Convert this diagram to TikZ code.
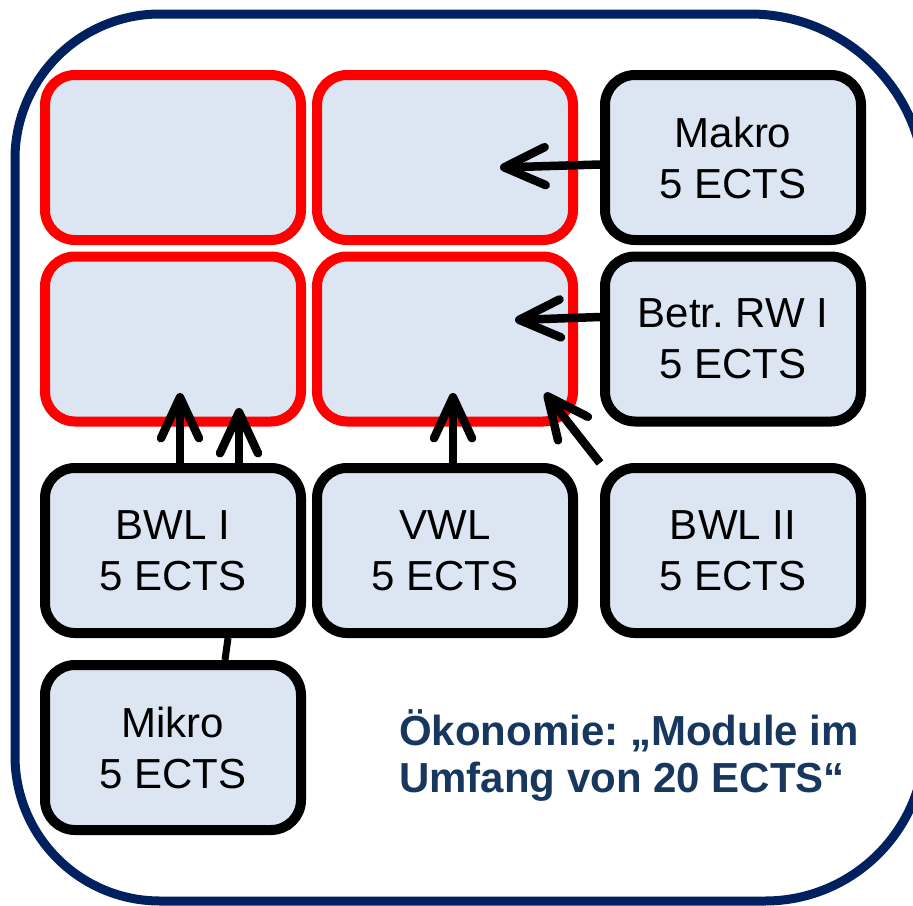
\documentclass[tikz,border=0pt]{standalone}
\usepackage{fontspec}
\setmainfont{Liberation Sans}
\usetikzlibrary{arrows.meta,calc}
\definecolor{boxfill}{HTML}{DCE6F2}
\definecolor{frameblue}{HTML}{002060}
\definecolor{textblue}{HTML}{17375E}
\definecolor{pred}{HTML}{FF0000}
\frenchspacing
\begin{document}
\begin{tikzpicture}[x=1pt,y=-1pt,
  modbox/.style={draw=black, fill=boxfill, line width=10pt, rounded corners=30pt,
    minimum width=256pt, minimum height=165pt, inner sep=0pt, align=center,
    font=\fontsize{42}{51}\selectfont},
  target/.style={modbox, draw=pred},
  dep/.style={line width=8.5pt, -{Straight Barb[length=41pt,width=38pt,round]}},
  link/.style={line width=7pt},
  frame/.style={draw=frameblue, line width=9pt}]
\useasboundingbox (0,0) rectangle (913,905);
% outer frame
\draw[frame] (15,400) -- (15,159) arc[start angle=180, end angle=90, radius=145pt]
  -- (750,14) arc[start angle=90, end angle=0, radius=175pt]
  -- (925,741) arc[start angle=0, end angle=-90, radius=160pt]
  -- (160,901) arc[start angle=-90, end angle=-180, radius=145pt]
  -- cycle;
% boxes
\node[target] (t11) at (173,157.5) {};
\node[target] (t12) at (445,157.5) {};
\node[modbox] (makro) at (733,157.5) {Makro\\5 ECTS};
\node[target] (t21) at (173,339) {};
\node[target] (t22) at (445,339) {};
\node[modbox] (betr) at (733,339) {Betr. RW I\\5 ECTS};
\node[modbox] (bwl1) at (173,550.5) {BWL I\\5 ECTS};
\node[modbox] (vwl) at (445,550.5) {VWL\\5 ECTS};
\node[modbox] (bwl2) at (733,550.5) {BWL II\\5 ECTS};
\node[modbox] (mikro) at (173,747.5) {Mikro\\5 ECTS};
% connectors
\draw[dep] ($(makro.west)+(0,7)$) -- ($(t12.center)+(55,10)$);
\draw[dep] ($(betr.west)+(0,-22)$) -- ($(t22.center)+(70,-19)$);
\draw[dep] ($(bwl1.north)+(7,0)$) -- ($(t21.center)+(7,54)$);
\draw[dep] ($(bwl1.north)+(66,0)$) -- ($(t21.center)+(66,69)$);
\draw[dep] ($(vwl.north)+(8,0)$) -- ($(t22.center)+(8,54)$);
\draw[dep] (bwl2.north west) -- ($(t22.center)+(100,54)$);
\draw[link] ($(bwl1.south)+(55,0)$) -- ($(mikro.north)+(52,0)$);
% label
\node[font=\bfseries\fontsize{42}{47}\selectfont, text=textblue, align=left,
  anchor=base west, inner sep=0pt] (label) at (399,792) {Ökonomie: „Module im\\Umfang von 20 ECTS“};
\end{tikzpicture}
\end{document}
